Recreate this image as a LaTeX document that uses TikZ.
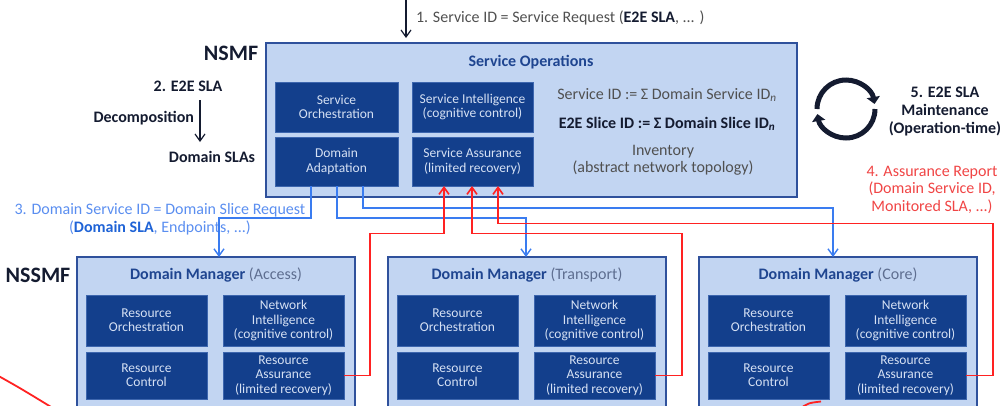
\documentclass[tikz,border=0pt]{standalone}
\usepackage{fontspec}
\setmainfont{Carlito}
\usetikzlibrary{arrows.meta,calc}

\definecolor{panelfill}{HTML}{C2D5F2}
\definecolor{paneledge}{HTML}{2F519C}
\definecolor{boxfill}{HTML}{133F8C}
\definecolor{boxedge}{HTML}{3D66AE}
\definecolor{boxtext}{HTML}{D6E1F4}
\definecolor{titleblue}{HTML}{1F4590}
\definecolor{subgrey}{HTML}{5E6E90}
\definecolor{ink}{HTML}{141B30}
\definecolor{greytext}{HTML}{505050}
\definecolor{linkblue}{HTML}{3A7CF0}
\definecolor{labelblue}{HTML}{5A8EF0}
\definecolor{boldblue}{HTML}{1F63D6}
\definecolor{alertred}{HTML}{FF2222}
\definecolor{labelred}{HTML}{F04545}

\tikzset{
  panel/.style={draw=paneledge, fill=panelfill, line width=1.3pt, outer sep=0pt, inner sep=0pt},
  darkbox/.style={draw=boxedge, fill=boxfill, line width=0.7pt, text=boxtext, align=center,
    inner sep=0pt, outer sep=0pt, font=\fontsize{13.5}{14.3}\selectfont},
  txt/.style={inner sep=0pt, outer sep=0pt, font=\fontsize{16}{18}\selectfont},
  hdr/.style={inner sep=0pt, outer sep=0pt, font=\fontsize{16}{18}\selectfont\bfseries},
  bigname/.style={inner sep=0pt, outer sep=0pt, font=\fontsize{22}{24}\selectfont\bfseries, text=ink},
  blink/.style={draw=linkblue, line width=1.4pt, -{Straight Barb[length=7pt,width=10pt]}},
  rlink/.style={draw=alertred, line width=1.6pt, -{Straight Barb[length=7pt,width=10pt]}},
  inkarrow/.style={draw=ink, line width=1.2pt, -{Straight Barb[length=7pt,width=10pt]}},
  loopArc/.style={draw=ink, line width=5pt, -{Triangle[length=7pt,width=13pt]}},
}

% one domain manager panel with its four function blocks
\newcommand\DomainMgr[3]{%
  \node[panel, anchor=north west, minimum width=278pt, minimum height=170pt] (#1) at (#2,257) {};
  \node[txt, anchor=base] (#1-title) at ($(#1.north west)+(139,22)$)
    {\textcolor{titleblue}{\bfseries Domain Manager} \textcolor{subgrey}{(#3)}};
  \node[darkbox, anchor=north west, minimum width=121pt, minimum height=51pt] (#1-ro)
    at ($(#1.north west)+(9,38)$) {Resource\\Orchestration};
  \node[darkbox, anchor=north west, minimum width=121pt, minimum height=51pt] (#1-ni)
    at ($(#1.north west)+(146,38)$) {Network\\Intelligence\\(cognitive control)};
  \node[darkbox, anchor=north west, minimum width=121pt, minimum height=47pt] (#1-rc)
    at ($(#1.north west)+(9,95)$) {Resource\\Control};
  \node[darkbox, anchor=north west, minimum width=121pt, minimum height=47pt] (#1-ra)
    at ($(#1.north west)+(146,95)$) {Resource\\Assurance\\(limited recovery)};
}

\begin{document}
\begin{tikzpicture}[x=1pt,y=-1pt]
\useasboundingbox (0,0) rectangle (1002,405);
\clip (0,0) rectangle (1002,405);

% ---------- NSMF ----------
\node[panel, anchor=north west, minimum width=531pt, minimum height=154pt] (nsmf) at (266,43) {};
\node[bigname, anchor=base] (nsmflbl) at (231,60) {NSMF};
\node[hdr, text=titleblue, anchor=base] (svcops) at (531,66) {Service Operations};
\node[darkbox, anchor=north west, minimum width=123pt, minimum height=50pt] (sorch) at (275,82) {Service\\Orchestration};
\node[darkbox, anchor=north west, minimum width=123pt, minimum height=49pt] (dadapt) at (275,137) {Domain\\Adaptation};
\node[darkbox, anchor=north west, minimum width=121pt, minimum height=50pt] (sintel) at (412,82) {Service Intelligence\\(cognitive control)};
\node[darkbox, anchor=north west, minimum width=121pt, minimum height=49pt] (sassur) at (412,137) {Service Assurance\\(limited recovery)};

\node[txt, text=greytext, anchor=base] (sumsvc) at (667,99) {Service ID := Σ Domain Service ID\textsubscript{\textit{n}}};
\node[hdr, text=ink, anchor=base] (sumslice) at (667,128) {E2E Slice ID := Σ Domain Slice ID\textsubscript{\textit{n}}};
\node[txt, text=greytext, anchor=base] (inv1) at (663,155) {Inventory};
\node[txt, text=greytext, anchor=base] (inv2) at (663,172) {(abstract network topology)};

% ---------- incoming service request ----------
\coordinate (reqin) at (406,0);
\draw[inkarrow, shorten >=5pt] (reqin) -- (reqin |- nsmf.north);
\node[txt, text=greytext, anchor=base west] (req) at (416,22)
  {1. Service ID = Service Request (\textcolor{ink}{\bfseries E2E SLA}, ... )};

% ---------- SLA decomposition ----------
\node[hdr, text=ink, anchor=base] (e2esla) at (188,91) {2. E2E SLA};
\node[hdr, text=ink, anchor=base east] (decomp) at (194,122) {Decomposition};
\node[hdr, text=ink, anchor=base] (domslas) at (212,162) {Domain SLAs};
\coordinate (decA) at (200,100);
\coordinate (decB) at (200,142);
\draw[inkarrow] (decA) -- (decB);

% ---------- SLA maintenance loop ----------
\coordinate (loopc) at (846,109);
\draw[loopArc] (loopc) ++(180:29) arc[start angle=180, end angle=350, radius=29];
\draw[loopArc] (loopc) ++(0:29) arc[start angle=0, end angle=170, radius=29];
\node[hdr, text=ink, anchor=base] (m1) at (945,97) {5. E2E SLA};
\node[hdr, text=ink, anchor=base] (m2) at (945,115) {Maintenance};
\node[hdr, text=ink, anchor=base] (m3) at (945,133) {(Operation-time)};

% ---------- labels of the two flows ----------
\node[txt, text=labelred, anchor=base] (ar1) at (932,176) {4. Assurance Report};
\node[txt, text=labelred, anchor=base] (ar2) at (932,193.5) {(Domain Service ID,};
\node[txt, text=labelred, anchor=base] (ar3) at (932,211) {Monitored SLA, ...)};

\node[txt, text=labelblue, anchor=base] (dsr1) at (160,214) {3. Domain Service ID = Domain Slice Request};
\node[txt, text=labelblue, anchor=base] (dsr2) at (160,232) {(\textcolor{boldblue}{\bfseries Domain SLA}, Endpoints, ...)};

% ---------- NSSMF ----------
\node[bigname, anchor=base] (nssmflbl) at (38,282) {NSSMF};
\DomainMgr{acc}{77}{Access}
\DomainMgr{trn}{388}{Transport}
\DomainMgr{cor}{699}{Core}

% ---------- domain slice requests ----------
\draw[blink] (dadapt.south west) ++(36,0) -- ++(0,32) -| ([xshift=3pt]acc.north);
\draw[blink] (dadapt.south west) ++(62,0) -- ++(0,32) -| ([xshift=-1pt]trn.north);
\draw[blink] (dadapt.south west) ++(88,0) -- ++(0,22) -| ([xshift=-5pt]cor.north);

% ---------- assurance reports ----------
\draw[rlink] (acc-ra.east) -| ++(26,-142) -| ([xshift=-28.5pt]sassur.south);
\draw[rlink] (trn-ra.east) -| ++(27,-142) -| ([xshift=-0.5pt]sassur.south);
\draw[rlink] (cor-ra.east) -| ++(27,-152) -| ([xshift=25.5pt]sassur.south);

% ---------- red return paths leaving the frame ----------
\draw[alertred, line width=1.8pt] (-5,374) .. controls (20,388) .. (56,410);
\draw[alertred, line width=1.8pt] (798,410) .. controls (808,403) .. (821,401.5);
\end{tikzpicture}
\end{document}
